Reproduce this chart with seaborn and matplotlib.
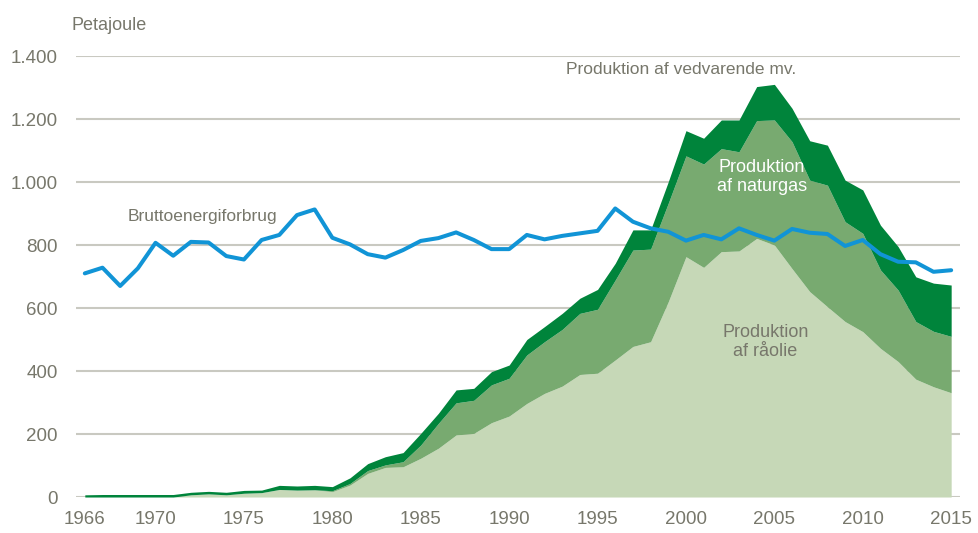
import numpy as np
import pandas as pd
import seaborn as sns
import matplotlib.pyplot as plt

years = list(range(1966, 2016))

# production, petajoule
oil = [0, 0, 0, 0, 0, 0, 7, 10, 7, 12,
       14, 24, 22, 23, 17, 38, 75, 94, 96, 123,
       155, 197, 202, 236, 257, 297, 329, 352, 389, 393,
       435, 478, 493, 620, 763, 729, 779, 781, 821, 800,
       725, 652, 604, 557, 525, 472, 430, 374, 350, 331]
gas = [0, 0, 0, 0, 0, 0, 0, 0, 0, 0,
       0, 0, 0, 0, 3, 5, 9, 8, 16, 42,
       79, 102, 105, 120, 120, 154, 164, 180, 194, 203,
       254, 306, 294, 313, 320, 328, 327, 315, 374, 397,
       403, 354, 386, 317, 312, 249, 227, 183, 176, 179]
renew = [7, 8, 8, 8, 8, 8, 8, 8, 8, 9,
         8, 13, 13, 14, 13, 18, 22, 26, 29, 37,
         32, 41, 38, 42, 42, 49, 48, 51, 48, 63,
         53, 64, 61, 68, 80, 82, 91, 101, 108, 113,
         106, 125, 127, 132, 138, 142, 138, 142, 153, 163]
gross = [710, 728, 670, 726, 807, 766, 810, 808, 765, 754,
         816, 832, 895, 913, 823, 802, 771, 760, 784, 813,
         822, 840, 816, 787, 787, 832, 818, 829, 837, 845,
         916, 874, 853, 842, 814, 832, 818, 853, 832, 814,
         851, 839, 835, 797, 816, 771, 747, 745, 715, 720]

ytick_vals = [0, 200, 400, 600, 800, 1000, 1200, 1400]
ytick_labels = ["0", "200", "400", "600", "800", "1.000", "1.200", "1.400"]
xtick_vals = [1966, 1970, 1975, 1980, 1985, 1990, 1995, 2000, 2005, 2010, 2015]

df = pd.DataFrame({"year": years, "gross": gross})

sns.set_theme(style="white")
plt.rcParams["font.family"] = ["Liberation Sans", "DejaVu Sans"]

txt = "#77776b"
fig = plt.figure(figsize=(9.79, 5.33), dpi=100)
ax = fig.add_axes([0.0776, 0.0675, 0.903, 0.8274])

ax.stackplot(years, oil, gas, renew,
             colors=["#c6d8b7", "#78aa70", "#00843b"], linewidth=0, zorder=2)
sns.lineplot(data=df, x="year", y="gross", color="#1194d6", linewidth=2.9,
             ax=ax, zorder=3)

ax.set_xlim(1965.5, 2015.5)
ax.set_ylim(0, 1400)
ax.set_yticks(ytick_vals, ytick_labels)
ax.set_xticks(xtick_vals)
ax.grid(axis="y", color="#c9c9c1", linewidth=1.5, zorder=0)
ax.set_axisbelow(True)
ax.tick_params(axis="both", length=0, labelsize=13.5, labelcolor=txt)
ax.tick_params(axis="y", pad=13)
ax.tick_params(axis="x", pad=10)
ax.set_xlabel("")
ax.set_ylabel("")
sns.despine(left=True, bottom=True)

fig.text(0.0735, 0.953, "Petajoule", fontsize=13, color=txt, va="center")
ax.text(1968.4, 892, "Bruttoenergiforbrug", fontsize=12.5, color=txt, va="center")
ax.text(1999.7, 1356, "Produktion af vedvarende mv.", fontsize=12.5, color=txt,
        ha="center", va="center")
ax.text(2004.3, 1017, "Produktion\naf naturgas", fontsize=13, color="white",
        ha="center", va="center", linespacing=1.15)
ax.text(2004.5, 493, "Produktion\naf råolie", fontsize=13, color=txt,
        ha="center", va="center", linespacing=1.15)

fig.savefig("out.png", dpi=100)
